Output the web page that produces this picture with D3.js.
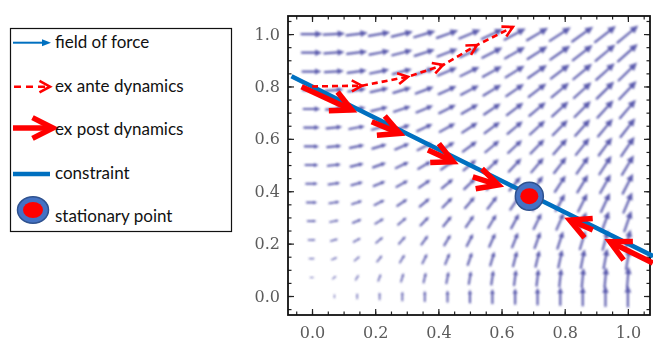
<!DOCTYPE html>
<html>
<head>
<meta charset="utf-8">
<script src="https://cdn.jsdelivr.net/npm/d3@7"></script>
<style>
  html, body { margin: 0; padding: 0; background: #fff; }
  svg { display: block; }
</style>
</head>
<body>
<svg id="chart" width="653" height="341"></svg>
<script>
// ---- data ----
// grid of sample points for the force field
const gridX = [0, 0.071, 0.143, 0.214, 0.286, 0.357, 0.429, 0.5, 0.571, 0.643, 0.714, 0.786, 0.857, 0.929, 1];
const gridY = [0, 0.071, 0.143, 0.214, 0.286, 0.357, 0.429, 0.5, 0.571, 0.643, 0.714, 0.786, 0.857, 0.929, 1];
// horizontal push of each row (bottom to top) and vertical push of each column (left to right)
const rowPushX = [0, 0.071, 0.143, 0.214, 0.286, 0.357, 0.429, 0.5, 0.571, 0.643, 0.714, 0.786, 0.857, 0.929, 1];
const colPushY = [0, 0.071, 0.143, 0.214, 0.286, 0.357, 0.429, 0.5, 0.571, 0.643, 0.714, 0.786, 0.857, 0.929, 1];

// constraint line end points
const constraintX = [-0.065, 1.08];
const constraintY = [0.839, 0.152];

// ex ante path (dashed, arrowhead at every vertex after the first)
const anteX = [0.0, 0.158, 0.304, 0.415, 0.522, 0.636];
const anteY = [0.80, 0.803, 0.837, 0.882, 0.958, 1.027];

// ex post arrows along the constraint
const postTailX = [-0.033, 0.189, 0.367, 0.509, 0.889, 1.079];
const postTailY = [0.799, 0.665, 0.557, 0.455, 0.252, 0.126];
const postTipX  = [0.126, 0.278, 0.447, 0.590, 0.816, 0.943];
const postTipY  = [0.710, 0.621, 0.513, 0.424, 0.290, 0.207];

// stationary point
const stationary = [0.688, 0.381];

// axis ticks
const majorTicks = [0, 0.2, 0.4, 0.6, 0.8, 1.0];
const minorTicks = [-0.05, 0, 0.05, 0.1, 0.15, 0.2, 0.25, 0.3, 0.35, 0.4, 0.45, 0.5, 0.55, 0.6, 0.65, 0.7, 0.75, 0.8, 0.85, 0.9, 0.95, 1.0, 1.05];

// legend entries
const legendLabels = ["field of force", "ex ante dynamics", "ex post dynamics", "constraint", "stationary point"];

// ---- drawing ----
const svg = d3.select("#chart");
const RED = "#ff0000", BLUE = "#0070c0", FIELD = "#4e4ea6";

const frame = {left: 288, right: 650, top: 16, bottom: 315};
const x = d3.scaleLinear().domain([-0.076, 1.07]).range([frame.left, frame.right]);
const y = d3.scaleLinear().domain([-0.0725, 1.069]).range([frame.bottom, frame.top]);

const defs = svg.append("defs");
defs.append("filter").attr("id", "soft").attr("x", "-10%").attr("y", "-10%").attr("width", "120%").attr("height", "120%")
  .append("feGaussianBlur").attr("stdDeviation", 0.8);
defs.append("filter").attr("id", "softer")
  .append("feGaussianBlur").attr("stdDeviation", 0.35);

// force field
const vectors = [];
gridY.forEach((gy, j) => gridX.forEach((gx, i) => {
  vectors.push({x: gx, y: gy, u: rowPushX[j], v: colPushY[i]});
}));
const maxNorm = d3.max(vectors, d => Math.hypot(d.u, d.v));
const lenScale = d3.scalePow().exponent(0.7).domain([0, maxNorm]).range([0, 27]);
const pxPerX = x(1) - x(0), pxPerY = y(0) - y(1);

const fieldG = svg.append("g").attr("filter", "url(#soft)");
vectors.forEach(d => {
  const n = Math.hypot(d.u, d.v);
  if (n === 0) return;
  const L = lenScale(n);
  let dx = d.u * pxPerX, dy = -d.v * pxPerY;
  const dn = Math.hypot(dx, dy); dx /= dn; dy /= dn;
  const cx = x(d.x), cy = y(d.y);
  const x0 = cx - dx * L / 2, y0 = cy - dy * L / 2;
  const x1 = cx + dx * L / 2, y1 = cy + dy * L / 2;
  const hl = Math.min(0.34 * L, 8), hw = Math.min(0.16 * L, 3.8);
  const bx = x1 - dx * hl, by = y1 - dy * hl;
  fieldG.append("line")
    .attr("x1", x0).attr("y1", y0).attr("x2", bx + dx * 0.5).attr("y2", by + dy * 0.5)
    .attr("stroke", FIELD).attr("stroke-width", Math.min(2.2, 0.7 + L * 0.11)).attr("stroke-opacity", 0.9)
    .attr("stroke-linecap", "round");
  fieldG.append("path")
    .attr("d", `M${x1},${y1}L${bx - dy * hw},${by + dx * hw}L${bx + dy * hw},${by - dx * hw}Z`)
    .attr("fill", FIELD).attr("fill-opacity", 0.9);
});

// frame and ticks
const axisFont = "'DejaVu Serif', serif";
function frameAxis(axisFn, scale, transform, showLabels) {
  const gMinor = svg.append("g").attr("transform", transform)
    .call(axisFn(scale).tickValues(minorTicks).tickSize(-3.5).tickFormat(""));
  gMinor.select(".domain").remove();
  const gMajor = svg.append("g").attr("transform", transform)
    .call(axisFn(scale).tickValues(majorTicks).tickSize(-6).tickPadding(showLabels ? 8 : 0)
      .tickFormat(showLabels ? d3.format(".1f") : ""));
  gMajor.select(".domain").remove();
  [gMinor, gMajor].forEach(g => g.selectAll(".tick line").attr("stroke", "#222").attr("stroke-width", 1.2));
  gMajor.selectAll(".tick text")
    .attr("font-family", axisFont).attr("font-size", 16).attr("fill", "#5b5b5b")
    .attr("filter", "url(#softer)");
  return gMajor;
}
frameAxis(d3.axisBottom, x, `translate(0,${frame.bottom})`, true)
  .selectAll(".tick text").attr("dy", "0.95em");
frameAxis(d3.axisTop, x, `translate(0,${frame.top})`, false);
frameAxis(d3.axisLeft, y, `translate(${frame.left},0)`, true);
frameAxis(d3.axisRight, y, `translate(${frame.right},0)`, false);

svg.append("rect")
  .attr("x", frame.left).attr("y", frame.top)
  .attr("width", frame.right - frame.left).attr("height", frame.bottom - frame.top)
  .attr("fill", "none").attr("stroke", "#111").attr("stroke-width", 1.8);

// chevron arrowhead helper
function chevron(g, tx, ty, ang, len, spread, color, width) {
  const a1 = ang + Math.PI - spread, a2 = ang + Math.PI + spread;
  g.append("path")
    .attr("d", `M${tx + len * Math.cos(a1)},${ty + len * Math.sin(a1)}L${tx},${ty}L${tx + len * Math.cos(a2)},${ty + len * Math.sin(a2)}`)
    .attr("fill", "none").attr("stroke", color).attr("stroke-width", width)
    .attr("stroke-linejoin", "miter").attr("stroke-miterlimit", 10);
}

// constraint
svg.append("line")
  .attr("x1", x(constraintX[0])).attr("y1", y(constraintY[0]))
  .attr("x2", x(constraintX[1])).attr("y2", y(constraintY[1]))
  .attr("stroke", BLUE).attr("stroke-width", 4.5);

// ex ante dashed path
const anteG = svg.append("g");
const antePts = anteX.map((v, i) => [x(v), y(anteY[i])]);
anteG.append("path").attr("d", d3.line()(antePts))
  .attr("fill", "none").attr("stroke", RED).attr("stroke-width", 2.6).attr("stroke-dasharray", "6,4");
for (let i = 1; i < antePts.length; i++) {
  const [px, py] = antePts[i - 1], [qx, qy] = antePts[i];
  chevron(anteG, qx, qy, Math.atan2(qy - py, qx - px), 11.5, 0.5, RED, 2.6);
}

// ex post arrows
const postG = svg.append("g");
postTailX.forEach((tx, i) => {
  const x0 = x(tx), y0 = y(postTailY[i]), x1 = x(postTipX[i]), y1 = y(postTipY[i]);
  const ang = Math.atan2(y1 - y0, x1 - x0);
  postG.append("line").attr("x1", x0).attr("y1", y0).attr("x2", x1 - 2 * Math.cos(ang)).attr("y2", y1 - 2 * Math.sin(ang))
    .attr("stroke", RED).attr("stroke-width", 5.5);
  chevron(postG, x1, y1, ang, 23, 0.47, RED, 5.5);
});

// stationary point
svg.append("circle").attr("cx", x(stationary[0])).attr("cy", y(stationary[1])).attr("r", 14)
  .attr("fill", "#4472c4").attr("stroke", "#2f528f").attr("stroke-width", 1.5);
svg.append("ellipse").attr("cx", x(stationary[0])).attr("cy", y(stationary[1])).attr("rx", 9).attr("ry", 8)
  .attr("fill", RED);

// legend
const lg = svg.append("g");
lg.append("rect").attr("x", 10.5).attr("y", 28.5).attr("width", 221).attr("height", 203)
  .attr("fill", "#fff").attr("stroke", "#111").attr("stroke-width", 1.2);
const rowY = [42.7, 86.7, 128, 174, 210];
const baseY = [47.5, 91.5, 134.5, 178.5, 222];
// field of force sample
lg.append("line").attr("x1", 13).attr("y1", rowY[0]).attr("x2", 43).attr("y2", rowY[0])
  .attr("stroke", BLUE).attr("stroke-width", 2);
lg.append("path").attr("d", `M51,${rowY[0]}L42,${rowY[0] - 3.5}L42,${rowY[0] + 3.5}Z`).attr("fill", BLUE);
// ex ante sample
lg.append("line").attr("x1", 14).attr("y1", rowY[1]).attr("x2", 49).attr("y2", rowY[1])
  .attr("stroke", RED).attr("stroke-width", 2.6).attr("stroke-dasharray", "7,5");
chevron(lg, 50, rowY[1], 0, 12, 0.5, RED, 2.6);
// ex post sample
lg.append("line").attr("x1", 13).attr("y1", rowY[2]).attr("x2", 51).attr("y2", rowY[2])
  .attr("stroke", RED).attr("stroke-width", 5.5);
chevron(lg, 53, rowY[2], 0, 23, 0.47, RED, 5.5);
// constraint sample
lg.append("line").attr("x1", 13).attr("y1", rowY[3]).attr("x2", 50).attr("y2", rowY[3])
  .attr("stroke", BLUE).attr("stroke-width", 4.5);
// stationary point sample
lg.append("ellipse").attr("cx", 33).attr("cy", rowY[4]).attr("rx", 15.5).attr("ry", 13.3)
  .attr("fill", "#4472c4").attr("stroke", "#2f528f").attr("stroke-width", 1.5);
lg.append("ellipse").attr("cx", 33).attr("cy", rowY[4]).attr("rx", 10).attr("ry", 8)
  .attr("fill", RED);

lg.selectAll("text.label").data(legendLabels).join("text")
  .attr("class", "label")
  .attr("x", 55).attr("y", (d, i) => baseY[i])
  .attr("font-family", "Lato, 'Open Sans', sans-serif").attr("font-size", 17).attr("fill", "#111")
  .text(d => d);
</script>
</body>
</html>
